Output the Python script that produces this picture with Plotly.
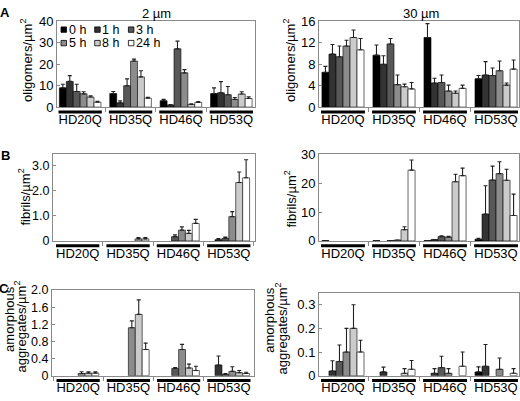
import plotly.graph_objects as go

W, H = 520, 401
categories = ["HD20Q", "HD35Q", "HD46Q", "HD53Q"]
times = ["0 h", "1 h", "3 h", "5 h", "8 h", "24 h"]
colors = ["#000000", "#333333", "#585858", "#8c8c8c", "#cbcbcb", "#ffffff"]
N = None

# Panel A: oligomers/µm², 2 µm
olig_2um = [[9.0, 6.3, 3.0, 6.3], [12.0, 2.0, 1.0, 6.7], [7.3, 10.0, 27.2, 5.8],
            [6.2, 21.5, 16.0, 3.6], [4.7, 14.1, 1.2, 6.1], [2.3, 4.2, 2.2, 4.0]]
olig_2um_err = [[1.7, 1.0, 0.6, 2.7], [2.7, 0.9, 0.2, 5.2], [3.4, 3.2, 3.6, 3.8],
                [1.0, 0.9, 1.5, 0.9], [0.6, 2.9, 0.3, 1.1], [0.4, 0.4, 0.4, 0.8]]
# Panel A: oligomers/µm², 30 µm
olig_30um = [[6.5, 9.7, 13.0, 5.3], [9.9, 8.0, 4.5, 6.0], [9.4, 11.8, 4.6, 5.9],
             [11.4, 4.2, 3.0, 6.8], [13.0, 3.8, 2.6, 4.1], [10.7, 3.4, 3.5, 7.1]]
olig_30um_err = [[1.1, 1.9, 2.6, 0.6], [1.8, 1.6, 0.9, 2.5], [2.0, 1.0, 1.4, 1.4],
                 [1.1, 1.8, 1.1, 1.8], [1.4, 0.5, 0.4, 0.4], [2.1, 1.2, 0.6, 1.7]]
# Panel B: fibrils/µm², 2 µm
fib_2um = [[0, 0, 0, 0], [0, 0, 0, 0.05], [0, 0, 0.17, 0.1],
           [0, 0, 0.43, 0.97], [0, 0.08, 0.3, 2.33], [0, 0.08, 0.7, 2.52]]
fib_2um_err = [[N, N, N, N], [N, N, N, 0.04], [N, N, 0.07, 0.05],
               [N, N, 0.13, 0.2], [N, 0.05, 0.12, 0.42], [N, 0.05, 0.16, 0.72]]
# Panel B: fibrils/µm², 30 µm
fib_30um = [[0.1, 0.1, 0.1, 0.6], [0, 0, 0.5, 9.3], [0, 0.1, 1.5, 21.1],
            [0, 0.3, 1.3, 23.3], [0, 3.9, 20.5, 21.0], [0, 24.5, 22.6, 8.8]]
fib_30um_err = [[N, N, N, 0.3], [N, N, N, 9.8], [N, N, 0.3, 4.8],
                [N, N, 0.3, 4.1], [N, 1.0, 2.6, 3.8], [N, 3.5, 2.6, 7.4]]
# Panel C: amorphous aggregates/µm², 2 µm
amor_2um = [[0, 0, 0, 0], [0, 0, 0, 0.25], [0, 0, 0.17, 0.03],
            [0.05, 1.12, 0.61, 0.1], [0.06, 1.43, 0.18, 0.07], [0.06, 0.61, 0.12, 0.05]]
amor_2um_err = [[N, N, N, N], [N, N, N, 0.21], [N, N, 0.02, 0.02],
                [0.04, 0.16, 0.12, 0.11], [0.03, 0.34, 0.09, 0.05], [0.03, 0.15, 0.1, 0.03]]
# Panel C: amorphous aggregates/µm², 30 µm
amor_30um = [[0, 0, 0, 0.016], [0.02, 0.016, 0.01, 0.04], [0.06, 0, 0.034, 0],
             [0.1, 0, 0.01, 0.027], [0.2, 0.01, 0, 0], [0.1, 0.027, 0.04, 0.01]]
amor_30um_err = [[N, N, N, 0.021], [0.043, 0.02, 0.02, 0.092], [0.07, N, 0.048, N],
                 [0.1, N, 0.02, 0.048], [0.1, 0.02, N, N], [0.05, 0.037, 0.06, 0.02]]

yticks_A2 = [0, 10, 20, 30, 40]
yticks_A30 = [0, 4, 8, 12, 16]
yticks_B2 = [0, 1, 2, 3]
yticks_B30 = [0, 10, 20, 30]
yticks_C2 = [0, 0.4, 0.8, 1.2, 1.6, 2.0]
yticks_C30 = [0, 0.1, 0.2, 0.3]
ytext_B2 = ["0", "1.0", "2.0", "3.0"]
ytext_C2 = ["0", "0.4", "0.8", "1.2", "1.6", "2.0"]

FONT = "Liberation Sans, Arial, sans-serif"

def px_dom_x(a, b):
    return [a / W, b / W]

def px_dom_y(top, bot):
    return [1 - bot / H, 1 - top / H]

panels = [
    # values, errors, x px, y px, yrange, tickvals, ticktext, xrange, ytick font
    (olig_2um, olig_2um_err, (57, 255), (15, 104), [0, 40], yticks_A2, None, [-0.46, 3.47], 13),
    (olig_30um, olig_30um_err, (319, 519), (15, 104), [0, 16], yticks_A30, None, [-0.47, 3.45], 13),
    (fib_2um, fib_2um_err, (53, 255), (153, 243), [0, 3.46], yticks_B2, ytext_B2, [-0.49, 3.52], 12.5),
    (fib_30um, fib_30um_err, (319, 519), (153, 243), [0, 30], yticks_B30, None, [-0.47, 3.45], 13),
    (amor_2um, amor_2um_err, (52, 254), (294, 383), [0, 2.0], yticks_C2, ytext_C2, [-0.52, 3.5], 12.5),
    (amor_30um, amor_30um_err, (319, 519), (297, 383), [0, 0.35], yticks_C30, None, [-0.47, 3.45], 13),
]

fig = go.Figure()
layout = dict(
    width=W, height=H, margin=dict(l=0, r=0, t=0, b=0),
    paper_bgcolor="white", plot_bgcolor="white",
    barmode="group", bargap=0.175, bargroupgap=0.0,
    showlegend=False,
    font=dict(family=FONT, size=13, color="black"),
)
shapes = []
annotations = []

for p, (vals, errs, xp, yp, yr, tv, tt, xr, yfs) in enumerate(panels):
    k = "" if p == 0 else str(p + 1)
    xa, ya = "x" + k, "y" + k
    for t in range(6):
        fig.add_trace(go.Bar(
            x=categories, y=[v if v > 0 else None for v in vals[t]],
            name=times[t], xaxis=xa, yaxis=ya,
            marker=dict(color=colors[t], line=dict(color="black", width=0.6)),
            error_y=dict(type="data", symmetric=False, array=errs[t],
                         arrayminus=[0] * 4, color="#222222", thickness=1.1, width=2),
            offsetgroup=str(t),
        ))
    layout["xaxis" + k] = dict(
        domain=px_dom_x(*xp), anchor=ya, type="category", range=xr,
        showline=True, mirror=True, linecolor="#8a8a8a", linewidth=1,
        ticks="outside", tickson="boundaries", ticklen=4, tickcolor="#8a8a8a",
        tickangle=0,
        showgrid=False, zeroline=False, tickfont=dict(size=13, family=FONT),
    )
    yd = dict(
        domain=px_dom_y(*yp), anchor=xa, range=yr, tickmode="array", tickvals=tv,
        showline=True, mirror=True, linecolor="#8a8a8a", linewidth=1,
        ticks="inside", ticklen=3, tickcolor="#8a8a8a",
        showgrid=False, zeroline=False, tickfont=dict(size=yfs, family=FONT),
    )
    if tt is not None:
        yd["ticktext"] = tt
    layout["yaxis" + k] = yd
    # group underlines, 5 px below the axis
    off = -5.0 / (yp[1] - yp[0])
    for i in range(len(categories)):
        f0 = (i - 0.43 - xr[0]) / (xr[1] - xr[0])
        f1 = (i + 0.43 - xr[0]) / (xr[1] - xr[0])
        shapes.append(dict(type="line", xref=xa + " domain", yref=ya + " domain",
                           x0=f0, x1=f1, y0=off, y1=off,
                           line=dict(color="black", width=3)))

# Legend drawn inside panel A (2 µm)
for t in range(6):
    row, col = t // 3, t % 3
    sx = 61 + 33.7 * col
    sy = 23.5 + 14 * row
    fx0 = (sx - 57) / 198
    fx1 = (sx + 5.5 - 57) / 198
    fy0 = (104 - (sy + 2.8)) / 89
    fy1 = (104 - (sy - 2.8)) / 89
    shapes.append(dict(type="rect", xref="x domain", yref="y domain",
                       x0=fx0, x1=fx1, y0=fy0, y1=fy1,
                       fillcolor=colors[t], line=dict(color="black", width=0.8)))
    annotations.append(dict(text=times[t], xref="x domain", yref="y domain",
                            x=(sx + 6.5 - 57) / 198, y=(104 - sy) / 89,
                            xanchor="left", yanchor="middle", showarrow=False,
                            borderpad=0, font=dict(size=12.5, family=FONT)))

def pa(text, x, y, size=13, angle=0, bold=False):
    annotations.append(dict(text=("<b>%s</b>" % text) if bold else text,
                            xref="paper", yref="paper", x=x / W, y=1 - y / H,
                            xanchor="center", yanchor="middle", showarrow=False,
                            textangle=angle, font=dict(size=size, family=FONT)))

pa("2 µm", 156, 7)
pa("30 µm", 421, 7)
pa("A", 5, 6, size=13, bold=True)
pa("B", 5, 154, size=13, bold=True)
pa("C", 4, 292, size=13, bold=True)
pa("oligomers/µm<sup>2</sup>", 26, 56, angle=-90)
pa("oligomers/µm<sup>2</sup>", 289, 56, angle=-90)
pa("fibrils/µm<sup>2</sup>", 24, 198, angle=-90)
pa("fibrils/µm<sup>2</sup>", 290, 200, angle=-90)
pa("amorphous", 10, 324, angle=-90)
pa("aggregates/µm<sup>2</sup>", 20, 332, angle=-90)
pa("amorphous", 270, 325, angle=-90)
pa("aggregates/µm<sup>2</sup>", 281, 334, angle=-90)

layout["shapes"] = shapes
layout["annotations"] = annotations
fig.update_layout(**layout)
fig.write_html("out.html", config={"displayModeBar": False},
               post_script="document.body.style.margin='0px';")
